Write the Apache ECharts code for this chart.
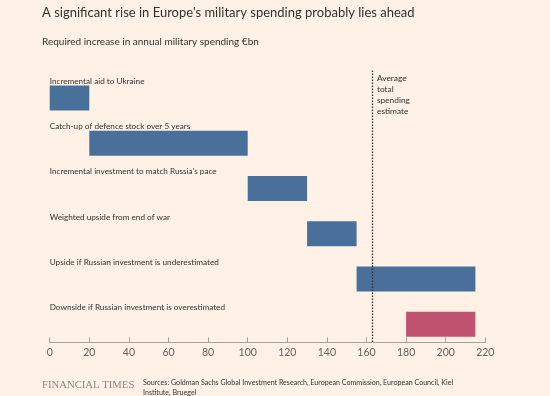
<!DOCTYPE html>
<html><head><meta charset="utf-8">
<script src="https://cdn.jsdelivr.net/npm/echarts@6/dist/echarts.min.js"></script>
<style>html,body{margin:0;padding:0;background:#fff1e5}#c{width:550px;height:396px}</style>
</head><body><div id="c"></div>
<script>
const categories = [
  "Incremental aid to Ukraine",
  "Catch-up of defence stock over 5 years",
  "Incremental investment to match Russia's pace",
  "Weighted upside from end of war",
  "Upside if Russian investment is underestimated",
  "Downside if Russian investment is overestimated"
];
const barStart = [0, 20, 100, 130, 155, 180];
const barEnd = [20, 100, 130, 155, 215, 215];
const barColors = ["#48709a", "#48709a", "#48709a", "#48709a", "#48709a", "#c0536f"];
const averageEstimate = 163;
const xTicks = [0, 20, 40, 60, 80, 100, 120, 140, 160, 180, 200, 220];

const chart = echarts.init(document.getElementById('c'));
const font = 'Lato, "Noto Sans", sans-serif';
chart.setOption({
  backgroundColor: '#fff1e5',
  animation: false,
  textStyle: { fontFamily: font },
  title: [
    { text: "A significant rise in Europe's military spending probably lies ahead", left: 42, top: 6, padding: 0,
      textStyle: { fontSize: 13, fontWeight: 'normal', color: '#33302e', fontFamily: font } },
    { text: "Required increase in annual military spending €bn", left: 42, top: 37, padding: 0,
      textStyle: { fontSize: 10, fontWeight: 'normal', color: '#33302e', fontFamily: font } }
  ],
  grid: [
    { left: 49.7, right: 64.7, top: 75.4, bottom: 49, containLabel: false },
    { left: 49.7, right: 64.7, top: 69, bottom: 54, containLabel: false }
  ],
  xAxis: [
    { type: 'value', gridIndex: 0, min: 0, max: 220, interval: 20, offset: -4.5,
      axisLine: { show: true, lineStyle: { color: '#a7a09a', width: 1 } },
      axisTick: { show: true, inside: true, length: 5, lineStyle: { color: '#a7a09a' } },
      splitLine: { show: false },
      axisLabel: { color: '#66605c', fontSize: 10.5, margin: 5, fontFamily: font,
        formatter: v => xTicks.includes(v) ? String(v) : '' } },
    { type: 'value', gridIndex: 1, min: 0, max: 220, show: false }
  ],
  yAxis: [
    { type: 'category', gridIndex: 0, data: categories, inverse: true,
      axisLine: { show: false }, axisTick: { show: false },
      axisLabel: { inside: true, margin: 0, align: 'left', verticalAlign: 'middle',
        lineHeight: 11.3, formatter: v => v + '\n\n\n',
        color: '#33302e', fontSize: 8.2, fontFamily: font } },
    { type: 'value', gridIndex: 1, min: 0, max: 1, show: false }
  ],
  series: [
    { type: 'bar', stack: 'r', xAxisIndex: 0, yAxisIndex: 0, barWidth: 25, silent: true,
      itemStyle: { color: 'transparent' }, data: barStart },
    { type: 'bar', stack: 'r', xAxisIndex: 0, yAxisIndex: 0, barWidth: 25,
      data: barEnd.map((e, i) => ({ value: e - barStart[i], itemStyle: { color: barColors[i] } })) },
    { type: 'line', xAxisIndex: 1, yAxisIndex: 1, data: [], silent: true,
      markLine: { symbol: 'none', silent: true, label: { show: false },
        lineStyle: { type: [1.5, 1.5], color: '#33302e', width: 1.3 },
        data: [{ xAxis: averageEstimate }] } }
  ],
  graphic: [
    { type: 'text', left: 377, top: 73,
      style: { text: 'Average\ntotal\nspending\nestimate', fontSize: 8.3, lineHeight: 11, fill: '#33302e', fontFamily: font } },
    { type: 'text', left: 42, top: 380,
      style: { text: 'FINANCIAL TIMES', fontSize: 10.7, fill: '#8c8580', fontFamily: '"Liberation Serif", "DejaVu Serif", serif' } },
    { type: 'text', left: 143, top: 378,
      style: { text: 'Sources: Goldman Sachs Global Investment Research, European Commission, European Council, Kiel\nInstitute, Bruegel',
        fontSize: 7.1, lineHeight: 10, fill: '#33302e', fontFamily: font } }
  ]
});
</script></body></html>
